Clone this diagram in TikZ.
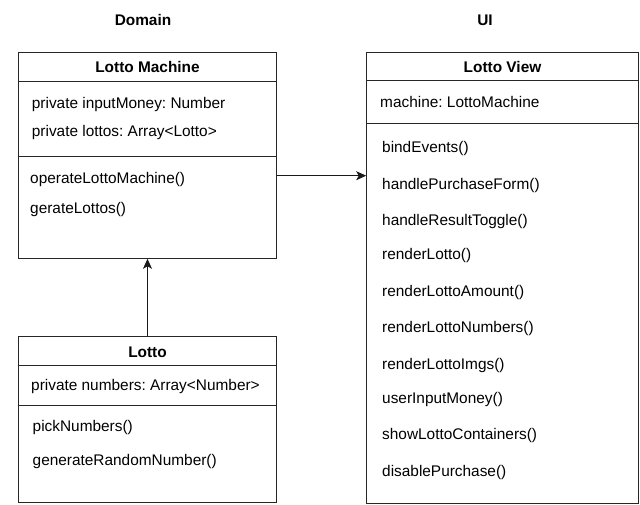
\documentclass[tikz,border=0pt]{standalone}
\usepackage{fontspec}
\setmainfont{Liberation Sans}
\usetikzlibrary{arrows.meta}
\frenchspacing

\begin{document}
\begin{tikzpicture}[x=1pt,y=1pt]
\tikzstyle{every node}+=[inner sep=0pt, font=\fontsize{15.4}{18}\selectfont]
\tikzstyle{classbox}=[draw=black!85, line width=1pt]
\tikzstyle{member}=[anchor=west, text height=13pt, text depth=1pt]
\tikzstyle{title}=[font=\fontsize{15.4}{18}\selectfont\bfseries, text height=13pt, text depth=1pt]
\tikzstyle{link}=[draw=black!90, line width=1pt, -{Stealth[length=10pt,width=9pt,inset=2.5pt]}]
\useasboundingbox (0,0) rectangle (640,-505);
\node[title] (domain) at (143,-20) {Domain};
\node[title] (ui) at (485,-20) {UI};
% Lotto Machine
\node[classbox, minimum width=258.4pt, minimum height=206pt] (machine) at (147.5,-155.3) {};
\node[title] (machinetitle) at (147.5,-67) {Lotto Machine};
\draw[classbox] (machine.west |- 0,-81.7) -- (machine.east |- 0,-81.7);
\draw[classbox] (machine.west |- 0,-156.7) -- (machine.east |- 0,-156.7);
\node[member] (money) at (31.7,-103) {private inputMoney: Number};
\node[member] (lottos) at (31.7,-131) {private lottos: Array<Lotto>};
\node[member] (operate) at (30,-178) {operateLottoMachine()};
\node[member] (gerate) at (30,-208) {gerateLottos()};
% Lotto
\node[classbox, minimum width=258.4pt, minimum height=166.3pt] (lotto) at (147.5,-419.15) {};
\node[title] (lottotitle) at (147.5,-351) {Lotto};
\draw[classbox] (lotto.west |- 0,-365.7) -- (lotto.east |- 0,-365.7);
\draw[classbox] (lotto.west |- 0,-405.7) -- (lotto.east |- 0,-405.7);
\node[member] (numbers) at (31,-384.3) {private numbers: Array<Number>};
\node[member] (pick) at (32.5,-425.7) {pickNumbers()};
\node[member] (random) at (32.5,-459) {generateRandomNumber()};
% Lotto View
\node[classbox, minimum width=271.6pt, minimum height=451pt] (view) at (502.5,-277.8) {};
\node[title] (viewtitle) at (502.5,-67) {Lotto View};
\draw[classbox] (view.west |- 0,-81) -- (view.east |- 0,-81);
\draw[classbox] (view.west |- 0,-124) -- (view.east |- 0,-124);
\node[member] (machinefield) at (380,-101.7) {machine: LottoMachine};
\foreach \y/\name in {146.7/bindEvents,183.3/handlePurchaseForm,219.3/handleResultToggle,
  253.5/renderLotto,290/renderLottoAmount,326.7/renderLottoNumbers,363.3/renderLottoImgs,
  397.7/userInputMoney,433.3/showLottoContainers,470/disablePurchase}
  \node[member] (\name) at (382,-\y) {\name()};
% links
\draw[link] (machine.east |- 0,-175.7) -- (view.west |- 0,-175.7);
\draw[link] (lotto.north) -- (machine.south);
\end{tikzpicture}
\end{document}
